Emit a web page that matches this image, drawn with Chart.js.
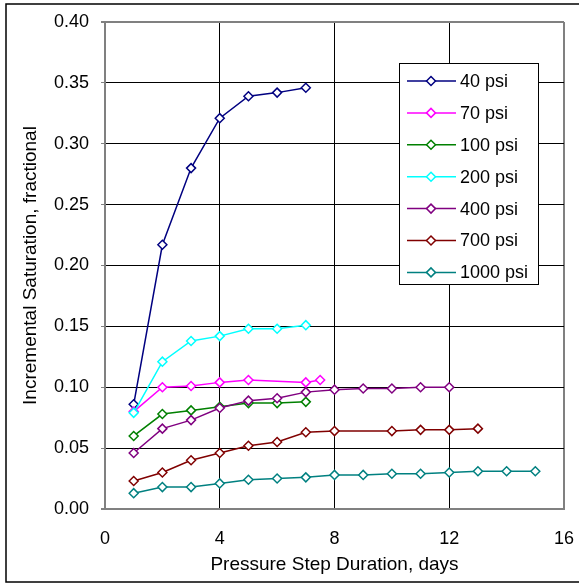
<!DOCTYPE html>
<html>
<head>
<meta charset="utf-8">
<title>Incremental Saturation vs Pressure Step Duration</title>
<script src="https://cdn.jsdelivr.net/npm/chart.js@4.4.1/dist/chart.umd.min.js"></script>
<style>
  html, body { margin: 0; padding: 0; background: #fff; }
  #wrap { position: relative; width: 579px; height: 584px; }
</style>
</head>
<body>
<div id="wrap"><canvas id="chart" width="579" height="584"></canvas></div>
<script>
/* ---------- data ---------- */
var seriesNames = ["40 psi", "70 psi", "100 psi", "200 psi", "400 psi", "700 psi", "1000 psi"];
var seriesColors = ["#000080", "#FF00FF", "#008000", "#00FFFF", "#800080", "#800000", "#008080"];

var days40 = [1, 2, 3, 4, 5, 6, 7];
var sat40 = [0.086, 0.217, 0.280, 0.321, 0.339, 0.342, 0.346];

var days70 = [1, 2, 3, 4, 5, 7, 7.5];
var sat70 = [0.080, 0.100, 0.101, 0.104, 0.106, 0.104, 0.106];

var days100 = [1, 2, 3, 4, 5, 6, 7];
var sat100 = [0.060, 0.078, 0.081, 0.084, 0.087, 0.087, 0.088];

var days200 = [1, 2, 3, 4, 5, 6, 7];
var sat200 = [0.079, 0.121, 0.138, 0.142, 0.148, 0.148, 0.151];

var days400 = [1, 2, 3, 4, 5, 6, 7, 8, 9, 10, 11, 12];
var sat400 = [0.046, 0.066, 0.073, 0.083, 0.089, 0.091, 0.096, 0.098, 0.099, 0.099, 0.100, 0.100];

var days700 = [1, 2, 3, 4, 5, 6, 7, 8, 10, 11, 12, 13];
var sat700 = [0.023, 0.030, 0.040, 0.046, 0.052, 0.055, 0.063, 0.064, 0.064, 0.065, 0.065, 0.066];

var days1000 = [1, 2, 3, 4, 5, 6, 7, 8, 9, 10, 11, 12, 13, 14, 15];
var sat1000 = [0.013, 0.018, 0.018, 0.021, 0.024, 0.025, 0.026, 0.028, 0.028, 0.029, 0.029, 0.030, 0.031, 0.031, 0.031];

var xTicks = [0, 4, 8, 12, 16];
var yTicks = [0, 0.05, 0.10, 0.15, 0.20, 0.25, 0.30, 0.35, 0.40];
var yTickLabels = ["0.00", "0.05", "0.10", "0.15", "0.20", "0.25", "0.30", "0.35", "0.40"];

var xTitle = "Pressure Step Duration, days";
var yTitle = "Incremental Saturation, fractional";

/* ---------- build datasets ---------- */
var allDays = [days40, days70, days100, days200, days400, days700, days1000];
var allSat = [sat40, sat70, sat100, sat200, sat400, sat700, sat1000];

function toPoints(xs, ys) {
  return xs.map(function (x, i) { return { x: x, y: ys[i] }; });
}

var datasets = seriesNames.map(function (name, i) {
  return {
    label: name,
    data: toPoints(allDays[i], allSat[i]),
    showLine: true,
    borderColor: seriesColors[i],
    borderWidth: 1.5,
    pointStyle: "rectRot",
    pointRadius: 4.5,
    pointBorderWidth: 1.5,
    pointBorderColor: seriesColors[i],
    pointBackgroundColor: "#fff",
    order: seriesNames.length - i   // later series sit on top, like the original
  };
});

var FONT = "Arial, 'Liberation Sans', sans-serif";
var GRAY = "#808080";

// legend box + outer frame, drawn by hand to sit where the original had it
var boxPlugin = {
  id: "boxAndLegend",
  afterDraw: function (chart) {
    var ctx = chart.ctx;
    ctx.save();

    // outer chart frame
    ctx.strokeStyle = "#000";
    ctx.lineWidth = 1.5;
    ctx.strokeRect(6, 4, 620, 578);

    // legend
    var left = 399.5, top = 63.5, w = 139, h = 221;
    ctx.fillStyle = "#fff";
    ctx.fillRect(left, top, w, h);
    ctx.strokeStyle = "#000";
    ctx.lineWidth = 1;
    ctx.strokeRect(left, top, w, h);

    ctx.font = "18px " + FONT;
    ctx.textBaseline = "middle";
    ctx.textAlign = "left";
    chart.data.datasets.forEach(function (ds, i) {
      var y = 81 + i * 31.9;
      ctx.strokeStyle = ds.borderColor;
      ctx.lineWidth = 1.5;
      ctx.beginPath();
      ctx.moveTo(407, y);
      ctx.lineTo(456, y);
      ctx.stroke();

      var r = 4.5, mx = 431;
      ctx.beginPath();
      ctx.moveTo(mx - r, y);
      ctx.lineTo(mx, y - r);
      ctx.lineTo(mx + r, y);
      ctx.lineTo(mx, y + r);
      ctx.closePath();
      ctx.fillStyle = "#fff";
      ctx.fill();
      ctx.stroke();

      ctx.fillStyle = "#000";
      ctx.fillText(ds.label, 460, y + 1);
    });
    ctx.restore();
  }
};

new Chart(document.getElementById("chart").getContext("2d"), {
  type: "scatter",
  data: { datasets: datasets },
  plugins: [boxPlugin],
  options: {
    responsive: false,
    animation: false,
    layout: { padding: { left: 0, top: 22, right: 15, bottom: 0 } },
    plugins: {
      legend: { display: false },
      tooltip: { enabled: false }
    },
    scales: {
      x: {
        type: "linear",
        min: 0, max: 16,
        afterBuildTicks: function (scale) {
          scale.ticks = xTicks.map(function (v) { return { value: v }; });
        },
        afterFit: function (scale) {
          scale.height = 75;
          // tick padding pushes labels down only; keep it off the sides
          scale.paddingLeft = 0;
          scale.paddingRight = 0;
        },
        ticks: {
          color: "#000",
          padding: 19,
          maxRotation: 0,
          font: { family: FONT, size: 18 },
          callback: function (v) { return String(v); }
        },
        grid: {
          drawTicks: false,
          color: function (c) { return c.tick && (c.tick.value === 16 || c.tick.value === 0) ? GRAY : "#000"; },
          lineWidth: function (c) { return c.tick && (c.tick.value === 16 || c.tick.value === 0) ? 2 : 1; }
        },
        border: { color: GRAY, width: 2 },
        title: {
          display: true,
          text: xTitle,
          color: "#000",
          font: { family: FONT, size: 19 },
          padding: { top: 0, bottom: 8 }
        }
      },
      y: {
        type: "linear",
        min: 0, max: 0.4,
        afterBuildTicks: function (scale) {
          scale.ticks = yTicks.map(function (v) { return { value: v }; });
        },
        afterFit: function (scale) {
          scale.width = 105;
          scale.paddingTop = 0;
          scale.paddingBottom = 0;
        },
        ticks: {
          color: "#000",
          padding: 12,
          font: { family: FONT, size: 18 },
          callback: function (v, i) { return yTickLabels[i]; }
        },
        grid: {
          tickLength: 4,
          tickColor: GRAY,
          color: function (c) { return c.tick && (c.tick.value === 0.4 || c.tick.value === 0) ? GRAY : "#000"; },
          lineWidth: function (c) { return c.tick && (c.tick.value === 0.4 || c.tick.value === 0) ? 2 : 1; }
        },
        border: { color: GRAY, width: 2 },
        title: {
          display: true,
          text: yTitle,
          color: "#000",
          font: { family: FONT, size: 19 },
          padding: { top: 19, bottom: 0 }
        }
      }
    }
  }
});
</script>
</body>
</html>
